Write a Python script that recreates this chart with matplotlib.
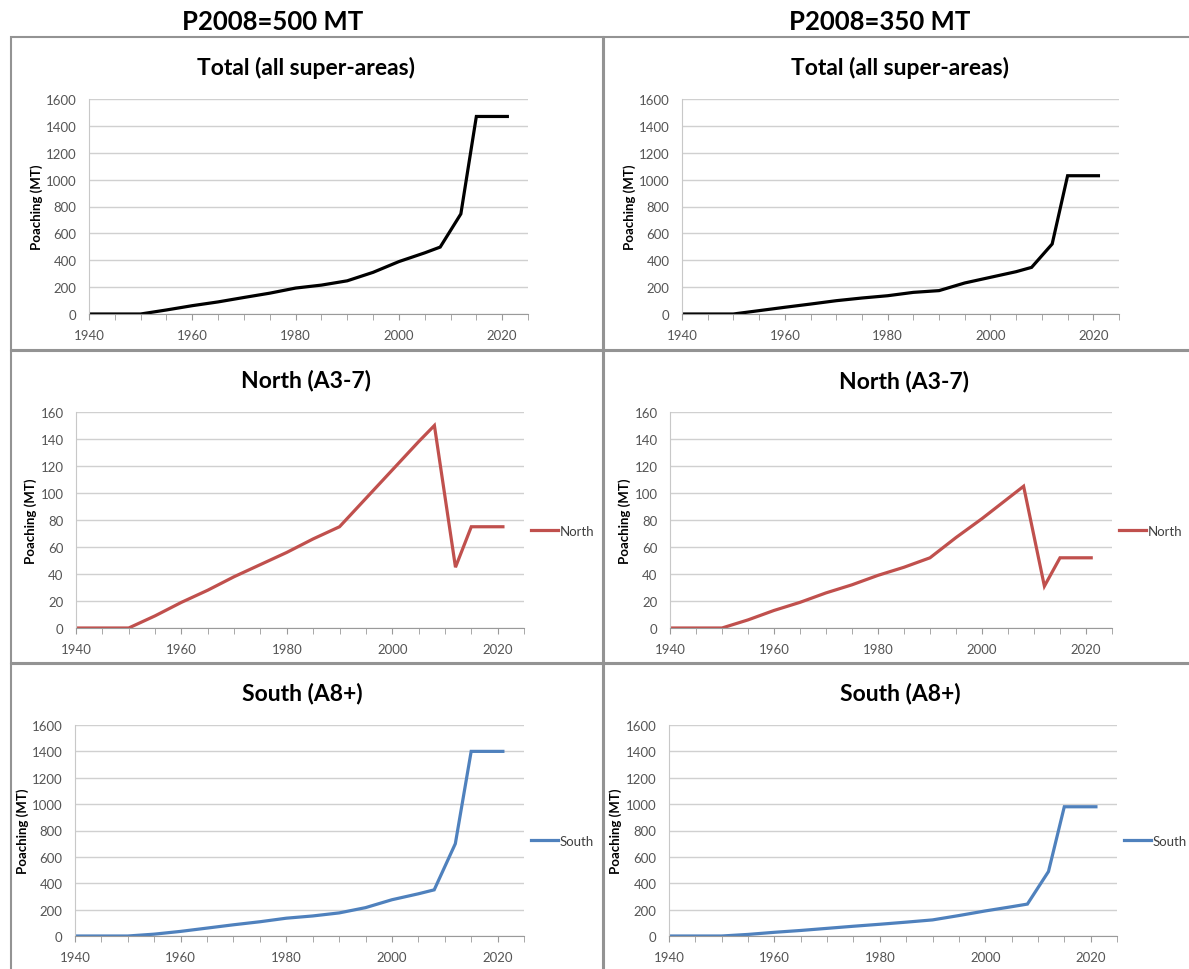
import matplotlib
matplotlib.use("Agg")
from matplotlib import pyplot as plt
from matplotlib.patches import Rectangle

plt.rcParams['font.family'] = ['Lato', 'DejaVu Sans']

# data
years = [1940, 1950, 1955, 1960, 1965, 1970, 1975, 1980, 1985, 1990, 1995, 2000, 2005, 2008, 2012, 2015, 2021]

total_500 = [0, 0, 30, 62, 90, 123, 155, 193, 215, 247, 310, 390, 455, 498, 745, 1470, 1470]
north_500 = [0, 0, 9, 19, 28, 38, 47, 56, 66, 75, 96, 117, 138, 150, 45, 75, 75]
south_500 = [0, 0, 14, 35, 60, 85, 108, 135, 152, 175, 215, 275, 320, 350, 700, 1400, 1400]

total_350 = [0, 0, 25, 50, 74, 99, 119, 136, 161, 174, 231, 273, 315, 347, 521, 1029, 1029]
north_350 = [0, 0, 6, 13, 19, 26, 32, 39, 45, 52, 67, 81, 96, 105, 31, 52, 52]
south_350 = [0, 0, 12, 28, 42, 58, 74, 89, 105, 122, 155, 190, 222, 242, 489, 980, 980]

col_titles = ["P2008=500 MT", "P2008=350 MT"]
row_titles = ["Total (all super-areas)", "North (A3-7)", "South (A8+)"]

W, H = 1189, 970
fig = plt.figure(figsize=(W / 100, H / 100), dpi=100)


def box(x0, y0, x1, y1):
    return [x0 / W, 1 - y1 / H, (x1 - x0) / W, (y1 - y0) / H]


def panel(x0, y0, x1, y1):
    fig.add_artist(Rectangle((x0 / W, 1 - y1 / H), (x1 - x0) / W, (y1 - y0) / H,
                             transform=fig.transFigure, fill=False,
                             edgecolor='#939393', lw=1.5, clip_on=False))


def chart(rect, x, y, color, ymax, ystep, ylab_x, legend=None):
    ax = fig.add_axes(box(*rect))
    ax.plot(x, y, color=color, lw=2.3, label=legend, solid_joinstyle='miter')
    ax.set_xlim(1940, 2025)
    ax.set_ylim(0, ymax)
    ax.set_xticks(range(1940, 2021, 20))
    ax.set_xticks(range(1940, 2026, 5), minor=True)
    ax.set_yticks(range(0, ymax + 1, ystep))
    ax.grid(axis='y', color='#d0d0d0', lw=1)
    ax.set_axisbelow(True)
    for s in ['top', 'right']:
        ax.spines[s].set_visible(False)
    ax.spines['left'].set_color('#c8c8c8')
    ax.spines['bottom'].set_color('#9a9a9a')
    ax.tick_params(axis='x', which='both', direction='out', length=4, color='#9a9a9a',
                   labelsize=9.5, labelcolor='#555555', pad=7)
    ax.tick_params(axis='y', length=0, labelsize=9.5, labelcolor='#555555', pad=9)
    ax.set_ylabel("Poaching (MT)", fontsize=9.5, fontweight='bold')
    # label x is its right edge, so shift by half its height
    ax.yaxis.set_label_coords((ylab_x + 6 - rect[0]) / (rect[2] - rect[0]), 0.5)
    if legend:
        ax.legend(loc='center left', bbox_to_anchor=(0.99, 0.45), frameon=False,
                  handlelength=2.0, handletextpad=0.15, fontsize=9.5, labelcolor='#404040')
    return ax


# panel borders
panel(11, 38, 603, 351)
panel(11, 352, 603, 664)
panel(11, 665, 603, 980)
panel(604, 38, 1200, 351)
panel(604, 352, 1200, 664)
panel(604, 665, 1200, 980)

# column headers
fig.text(273 / W, 1 - 22 / H, col_titles[0], ha='center', va='center', fontsize=18.5, fontweight='bold')
fig.text(880 / W, 1 - 22 / H, col_titles[1], ha='center', va='center', fontsize=18.5, fontweight='bold')

# left column
chart((89, 100, 528, 315), years, total_500, 'black', 1600, 200, 37)
chart((76, 413, 524, 629), years, north_500, '#c0504d', 160, 20, 31, 'North')
chart((75, 726, 524, 937), years, south_500, '#4f81bd', 1600, 200, 23, 'South')

# right column
chart((682, 100, 1119, 315), years, total_350, 'black', 1600, 200, 630)
chart((670, 413, 1112, 629), years, north_350, '#c0504d', 160, 20, 625, 'North')
chart((669, 726, 1117, 937), years, south_350, '#4f81bd', 1600, 200, 616, 'South')

# chart titles
for cx, cy, t in [(306, 68, row_titles[0]), (306, 381, row_titles[1]), (302, 694, row_titles[2]),
                  (900, 68, row_titles[0]), (904, 382, row_titles[1]), (900, 694, row_titles[2])]:
    fig.text(cx / W, 1 - cy / H, t, ha='center', va='center', fontsize=16.5, fontweight='bold')

fig.savefig("out.png", dpi=100)
